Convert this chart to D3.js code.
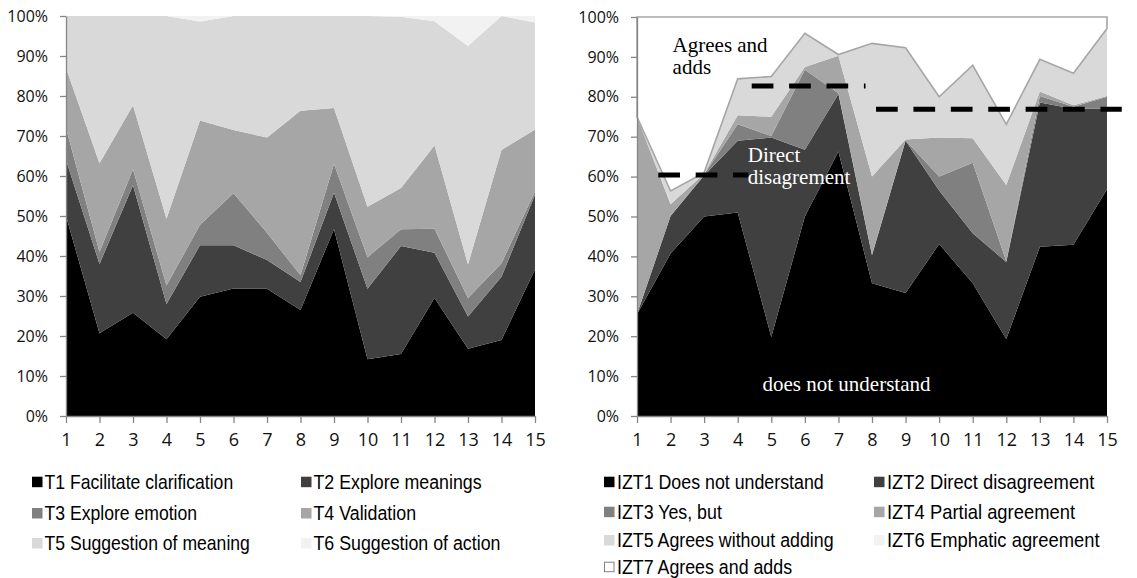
<!DOCTYPE html>
<html>
<head>
<meta charset="utf-8">
<script src="https://cdn.jsdelivr.net/npm/d3@7"></script>
<style>
  html, body { margin: 0; padding: 0; background: #fff; }
  svg { display: block; }
</style>
</head>
<body>
<script>
// ---------- DATA ----------
const categories = [1, 2, 3, 4, 5, 6, 7, 8, 9, 10, 11, 12, 13, 14, 15];
const yTicks = [0, 10, 20, 30, 40, 50, 60, 70, 80, 90, 100];

// Left chart (T series), percent of each category
const tNames = ["T1 Facilitate clarification", "T2 Explore meanings", "T3 Explore emotion",
                "T4 Validation", "T5 Suggestion of meaning", "T6 Suggestion of action"];
const t1 = [50, 20.7, 25.8, 19.2, 29.8, 31.9, 31.8, 26.5, 46.7, 14.2, 15.5, 29.5, 16.8, 19, 36.6];
const t2 = [14, 17.3, 31.9, 8.8, 12.9, 10.8, 7.2, 7, 9.1, 17.6, 27, 11.3, 8.1, 15.8, 18.7];
const t3 = [8, 3, 4, 4.6, 5.1, 13, 6.8, 1.7, 7.2, 7.9, 4.2, 6, 4.6, 3.4, 0.8];
const t4 = [15, 22.2, 16, 16.7, 26.1, 15.8, 23.8, 41.1, 14, 12.6, 10.3, 20.8, 8.4, 28.3, 15.5];
const t5 = [13, 36.8, 22.3, 50.7, 24.7, 28.5, 30.4, 23.7, 23, 47.7, 42.8, 31.1, 54.6, 33.5, 26.8];
const t6 = [0, 0, 0, 0, 1.4, 0, 0, 0, 0, 0, 0.2, 1.3, 7.5, 0, 1.6];

// Right chart (IZT series)
const iztNames = ["IZT1 Does not understand", "IZT2 Direct disagreement", "IZT3 Yes, but",
                  "IZT4 Partial agreement", "IZT5 Agrees without adding", "IZT6 Emphatic agreement",
                  "IZT7 Agrees and adds"];
const izt1 = [25.5, 40.7, 50, 51, 19.8, 50, 66.3, 33.3, 30.8, 43.1, 33.3, 19.3, 42.4, 42.9, 56.8];
const izt2 = [0, 9.4, 10.3, 18, 50, 16.7, 14.4, 7, 38.2, 13.4, 12.5, 19.3, 36.2, 34.1, 20.2];
const izt3 = [0, 0, 0.2, 4.1, 0.4, 20.1, 0.2, 0.1, 0.1, 3.5, 17.7, 0.2, 1.6, 0.5, 3];
const izt4 = [49.5, 3, 0.2, 2.3, 4.8, 0.7, 9.4, 19.6, 0.2, 9.8, 6.1, 19.1, 1.1, 0.4, 0.2];
const izt5 = [0, 3.3, 0.3, 9.1, 10.1, 8.4, 0.3, 33.4, 23, 10.2, 18.3, 15.2, 8.1, 8, 16.9];
const izt6 = [0, 0, 0, 0, 0, 0, 0, 0, 0, 0, 0, 0, 0, 0, 0];
const izt7 = [25, 43.6, 39, 15.5, 14.9, 4.1, 9.4, 6.6, 7.7, 20, 12.1, 26.9, 10.6, 14.1, 2.9];

// Annotations on the right chart (category position, percent)
const dashLines = [[1.634, 4.316, 60.4], [4.417, 7.807, 82.7], [8.12, 15.44, 76.9]];
const notes = [
  { lines: ["Agrees and", "adds"], cat: 2.06, pct: 91.3, color: "#000" },
  { lines: ["Direct", "disagrement"], cat: 4.3, pct: 63.7, color: "#fff" },
  { lines: ["does not understand"], cat: 4.74, pct: 6.3, color: "#fff" }
];

const grays = ["#000000", "#404040", "#808080", "#a6a6a6", "#d9d9d9", "#f2f2f2", "#ffffff"];

// ---------- DRAW ----------
const W = 1137, H = 578;
const svg = d3.select("body").append("svg").attr("width", W).attr("height", H)
  .style("font-family", "'Open Sans', sans-serif");
svg.append("rect").attr("width", W).attr("height", H).attr("fill", "#fff");

function buildRows(series) {
  return categories.map((c, i) => {
    const r = { cat: c };
    series.forEach((s, k) => r["s" + k] = s[i]);
    return r;
  });
}

function drawChart(opts) {
  const { series, x0, x1, yTop, yBot } = opts;
  const x = d3.scaleLinear().domain([1, 15]).range([x0, x1]);
  const y = d3.scaleLinear().domain([0, 100]).range([yBot, yTop]);
  const keys = series.map((s, k) => "s" + k);
  const stacked = d3.stack().keys(keys)(buildRows(series));
  const area = d3.area().x(d => x(d.data.cat)).y0(d => y(d[0])).y1(d => y(d[1]));
  const g = svg.append("g");
  g.selectAll("path.area").data(stacked).enter().append("path")
    .attr("class", "area")
    .attr("d", area)
    .attr("fill", (d, i) => grays[i])
    .attr("stroke", (d, i) => i === 6 ? "#a6a6a6" : "none")
    .attr("stroke-width", (d, i) => i === 6 ? 1.6 : 0);

  const yAxis = d3.axisLeft(y).tickValues(yTicks).tickFormat(d => d + "%")
    .tickSize(6).tickSizeOuter(0).tickPadding(12);
  const ya = g.append("g").attr("transform", `translate(${x0},0)`).call(yAxis);
  const xAxis = d3.axisBottom(x).tickValues(categories).tickFormat(d3.format("d"))
    .tickSize(7).tickSizeOuter(0).tickPadding(10.5);
  const xa = g.append("g").attr("transform", `translate(0,${yBot})`).call(xAxis);
  [ya, xa].forEach(a => {
    a.select(".domain").attr("stroke", "#868686").attr("stroke-width", 1.3);
    a.selectAll(".tick line").attr("stroke", "#868686").attr("stroke-width", 1.3);
    a.selectAll(".tick text").attr("fill", "#111").style("font-family", "'Open Sans', sans-serif");
  });
  ya.selectAll(".tick text").style("font-size", "16px");
  xa.selectAll(".tick text").style("font-size", "18px");
  return { g, x, y };
}

const left = drawChart({ series: [t1, t2, t3, t4, t5, t6], x0: 66, x1: 535, yTop: 16, yBot: 416 });
const right = drawChart({ series: [izt1, izt2, izt3, izt4, izt5, izt6, izt7], x0: 637, x1: 1107, yTop: 17, yBot: 416 });

// dashed reference lines
right.g.selectAll("line.dash").data(dashLines).enter().append("line")
  .attr("x1", d => right.x(d[0])).attr("x2", d => right.x(d[1]))
  .attr("y1", d => right.y(d[2])).attr("y2", d => right.y(d[2]))
  .attr("stroke", "#000").attr("stroke-width", 5).attr("stroke-dasharray", "21.7 15.7");

// text notes
notes.forEach(n => {
  const t = right.g.append("text")
    .attr("x", right.x(n.cat)).attr("y", right.y(n.pct))
    .attr("fill", n.color)
    .style("font-family", "'Liberation Serif', 'Times New Roman', serif")
    .style("font-size", "21px");
  n.lines.forEach((l, i) => t.append("tspan").attr("x", right.x(n.cat)).attr("dy", i === 0 ? 0 : 22.3).text(l));
});

// legends
function legend(names, colX, textGap, rowY, colors, sx2) {
  names.forEach((name, i) => {
    const col = i % 2, row = Math.floor(i / 2);
    const sx = colX[col], cy = rowY[row];
    const g = svg.append("g");
    const white = colors[i] === "#ffffff";
    g.append("rect").attr("x", sx + (white ? 0.5 : 0)).attr("y", cy - 5 + (white ? 0.5 : 0))
      .attr("width", white ? 9.5 : 10.5).attr("height", white ? 9.5 : 10.5)
      .attr("fill", colors[i]).attr("stroke", white ? "#808080" : "none").attr("stroke-width", 1);
    g.append("text")
      .attr("transform", `translate(${sx + textGap},${cy + 7.2}) scale(${sx2[col]},1)`)
      .attr("fill", "#000")
      .style("font-family", "'Liberation Sans', Arial, sans-serif")
      .style("font-size", "20px")
      .text(name);
  });
}
legend(tNames, [32, 301], 12.5, [481.7, 513, 543], grays, [0.88, 0.89]);
legend(iztNames, [604, 874], 13, [481.7, 511.7, 540, 566.7], grays, [0.89, 0.92]);
</script>
</body>
</html>
